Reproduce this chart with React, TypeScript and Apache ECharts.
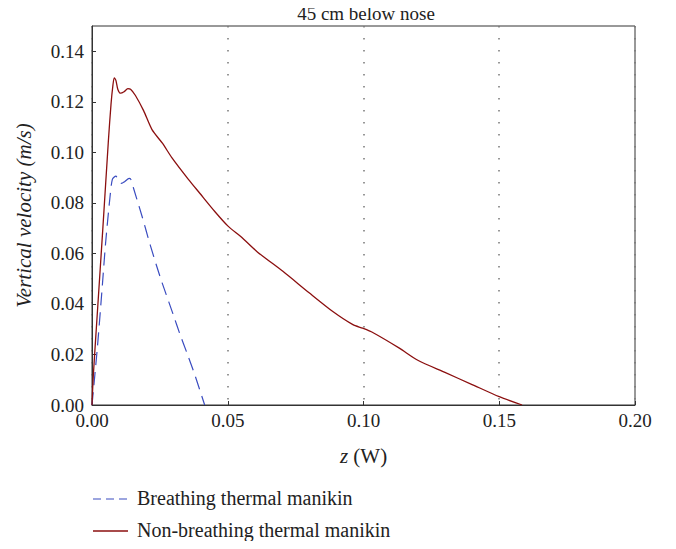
import React, { useEffect, useRef } from "react";
import * as echarts from "echarts";

const breathZ = [0, 0.002, 0.0036, 0.005, 0.0066, 0.0075, 0.0088, 0.0098, 0.0109, 0.012, 0.0137, 0.0143, 0.0153, 0.0184, 0.0214, 0.025, 0.03, 0.0324, 0.035, 0.038, 0.0415];
const breathV = [0, 0.023, 0.0444, 0.064, 0.082, 0.0893, 0.0906, 0.0887, 0.0877, 0.0884, 0.0897, 0.0893, 0.0858, 0.0748, 0.0635, 0.051, 0.0355, 0.028, 0.0205, 0.0115, 0];

const nonBreathZ = [0, 0.0005, 0.002, 0.004, 0.006, 0.007, 0.0077, 0.0082, 0.0088, 0.0095, 0.0105, 0.0118, 0.0132, 0.0142, 0.016, 0.019, 0.0221, 0.026, 0.0294, 0.0355, 0.0397, 0.0453, 0.0501, 0.055, 0.061, 0.0703, 0.0801, 0.0887, 0.0961, 0.0997, 0.1034, 0.1132, 0.12, 0.13, 0.14, 0.15, 0.1584];
const nonBreathV = [0, 0.012, 0.037, 0.07, 0.104, 0.119, 0.1265, 0.1295, 0.1285, 0.125, 0.1234, 0.124, 0.1252, 0.125, 0.1225, 0.1165, 0.109, 0.1035, 0.0979, 0.0893, 0.0838, 0.0765, 0.0708, 0.0665, 0.0605, 0.0529, 0.0443, 0.037, 0.0318, 0.0304, 0.0287, 0.0225, 0.0177, 0.0129, 0.0081, 0.0033, 0];

const seriesNames = ["Breathing thermal manikin", "Non-breathing thermal manikin"];
const titleText = "45 cm below nose";

const FONT = "'Liberation Serif', 'DejaVu Serif', serif";
const BLUE = "#3a4cc0";
const RED = "#8b0f0f";
const TEXT = "#222";

export default function App() {
  const ref = useRef<HTMLDivElement>(null);
  useEffect(() => {
    if (!ref.current) return;
    const chart = echarts.init(ref.current, null, { renderer: "svg" });
    const pair = (xs: number[], ys: number[]) => xs.map((x, i) => [x, ys[i]]);
    chart.setOption({
      animation: false,
      backgroundColor: "#ffffff",
      grid: {
        left: 92,
        right: 41,
        top: 26,
        bottom: 144,
        show: true,
        borderColor: "#333",
        borderWidth: 1,
        backgroundColor: "transparent",
      },
      xAxis: {
        type: "value",
        min: 0,
        max: 0.2,
        interval: 0.05,
        axisLine: { show: true, onZero: false, lineStyle: { color: "#333", width: 1 } },
        axisTick: { show: true, inside: true, length: 4, lineStyle: { color: "#333" } },
        axisLabel: {
          fontFamily: FONT,
          fontSize: 19,
          color: TEXT,
          margin: 6,
          formatter: (v: number) => v.toFixed(2),
        },
        splitLine: { show: true, lineStyle: { color: "#777", type: [1.5, 10.5], width: 1.5 } },
        name: "{i|z} (W)",
        nameLocation: "middle",
        nameGap: 40,
        nameTextStyle: {
          fontFamily: FONT,
          fontSize: 21,
          color: TEXT,
          rich: { i: { fontFamily: FONT, fontSize: 21, fontStyle: "italic", color: TEXT } },
        },
      },
      yAxis: {
        type: "value",
        min: 0,
        max: 0.15,
        interval: 0.02,
        axisLine: { show: true, onZero: false, lineStyle: { color: "#333", width: 1 } },
        axisTick: { show: true, inside: true, length: 4, lineStyle: { color: "#333" } },
        axisLabel: {
          fontFamily: FONT,
          fontSize: 19,
          color: TEXT,
          margin: 8,
          showMaxLabel: false,
          formatter: (v: number) => (v > 0.145 ? "" : v.toFixed(2)),
        },
        splitLine: { show: false },
        name: "Vertical velocity (m/s)",
        nameLocation: "middle",
        nameGap: 58,
        nameTextStyle: { fontFamily: FONT, fontSize: 21, fontStyle: "italic", color: TEXT },
      },
      graphic: [
        {
          type: "text",
          x: 366,
          y: 23,
          style: { text: titleText, fontFamily: FONT, fontSize: 19, fill: TEXT, align: "center", verticalAlign: "bottom" },
        },
        {
          type: "line",
          shape: { x1: 93, y1: 499, x2: 128, y2: 499 },
          style: { stroke: BLUE, lineWidth: 1.2, lineDash: [8, 5] },
        },
        {
          type: "text",
          x: 137,
          y: 498,
          style: { text: seriesNames[0], fontFamily: FONT, fontSize: 20, fill: TEXT, verticalAlign: "middle" },
        },
        {
          type: "line",
          shape: { x1: 93, y1: 531, x2: 128, y2: 531 },
          style: { stroke: RED, lineWidth: 1.3 },
        },
        {
          type: "text",
          x: 137,
          y: 530,
          style: { text: seriesNames[1], fontFamily: FONT, fontSize: 20, fill: TEXT, verticalAlign: "middle" },
        },
      ],
      series: [
        {
          name: seriesNames[0],
          type: "line",
          data: pair(breathZ, breathV),
          symbol: "none",
          smooth: 0.25,
          lineStyle: { color: BLUE, width: 1.2, type: [13, 7] },
          itemStyle: { color: BLUE },
        },
        {
          name: seriesNames[1],
          type: "line",
          data: pair(nonBreathZ, nonBreathV),
          symbol: "none",
          smooth: 0.25,
          lineStyle: { color: RED, width: 1.3 },
          itemStyle: { color: RED },
        },
      ],
    });
    return () => chart.dispose();
  }, []);
  return <div ref={ref} style={{ width: 676, height: 549, margin: -8 }} />;
}
